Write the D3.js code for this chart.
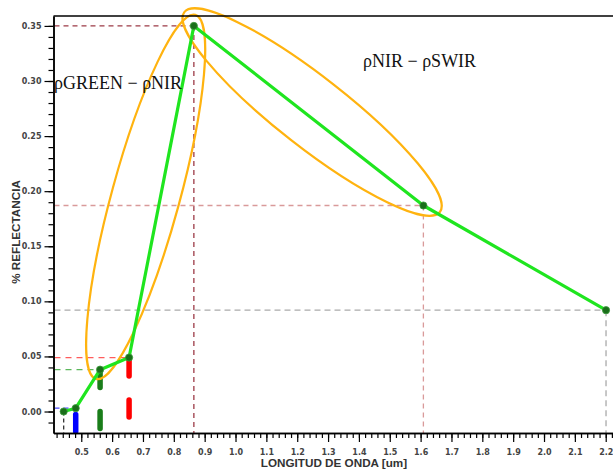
<!DOCTYPE html>
<html><head><meta charset="utf-8">
<script src="https://cdn.jsdelivr.net/npm/d3@7"></script>
<style>body{margin:0;background:#fff}svg{display:block}</style>
</head><body><svg id="c" width="613" height="473"></svg>
<script>
// ---- data ----
const bands = ["Coastal","Blue","Green","Red","NIR","SWIR1","SWIR2"];
const wavelengths = [0.443,0.482,0.561,0.655,0.865,1.609,2.201];
const reflectance = [0.000,0.003,0.038,0.049,0.350,0.187,0.092];
const guideHoriz = [false,true,true,true,true,true,true];
const guideVert  = [true,false,false,false,true,true,true];
const barBands = ["Blue","Green","Red"];
const barTops  = [-0.0005,0.0395,0.050];
const xMajorTicks = d3.range(5,23).map(i=>+(i/10).toFixed(1));
const xMinorTicks = d3.range(21,112).map(i=>+(i*0.02).toFixed(2));
const yMajorTicks = [0,0.05,0.10,0.15,0.20,0.25,0.30,0.35];
const yMinorTicks = d3.range(-1,36).map(i=>+(i/100).toFixed(2));
const xTitle = "LONGITUD DE ONDA [um]";
const yTitle = "% REFLECTANCIA";
const annotTexts = ["ρGREEN − ρNIR","ρNIR − ρSWIR"];
const ellipseFrom = ["Green","NIR"];
const ellipseTo   = ["NIR","SWIR1"];

// ---- styles ----
const guideColors = ["#333","#4a4aff","#5cb85c","#ff5c5c","#9c3a46","#d99a9a","#aaaaaa"];
const guideDash   = ["4,3","5,4","6,5","6,5","5,4","5,4","6,4"];
const barColors = ["#0000ff","#1a7d1a","#ff0000"];
const ellipseStyle = [
  {padStart:10, padEnd:11, offset:-1.5, halfWidth:34},
  {padStart:16, padEnd:17, offset:-5, halfWidth:35}
];

const svg = d3.select("#c");
const W = 613, H = 473;
const x = d3.scaleLinear().domain([0.41, 2.25]).range([53.5, 53.5 + 1.84*308.5]);
const y = d3.scaleLinear().domain([-0.0195, 0.359]).range([433, 16]);
const x0 = x.range()[0], yBase = y.range()[0], yTop = y.range()[1];

const pts = bands.map((b,i)=>({band:b, w:wavelengths[i], r:reflectance[i], i}));
const byBand = Object.fromEntries(pts.map(p=>[p.band,p]));

// guides
const g = svg.append("g");
pts.forEach(p=>{
  if (guideHoriz[p.i]) g.append("line")
    .attr("x1", x0+1).attr("x2", x(p.w)).attr("y1", y(p.r)).attr("y2", y(p.r))
    .attr("stroke", guideColors[p.i]).attr("stroke-width", 1.3).attr("stroke-dasharray", guideDash[p.i]);
  if (guideVert[p.i]) g.append("line")
    .attr("x1", x(p.w)).attr("x2", x(p.w)).attr("y1", y(p.r)).attr("y2", yBase)
    .attr("stroke", guideColors[p.i]).attr("stroke-width", 1.3).attr("stroke-dasharray", guideDash[p.i]);
});

// thick band bars
barBands.forEach((b,k)=>{
  const p = byBand[b];
  svg.append("line")
    .attr("x1", x(p.w)).attr("x2", x(p.w))
    .attr("y1", y(barTops[k]) + 2.5).attr("y2", yBase - 1)
    .attr("stroke", barColors[k]).attr("stroke-width", 5.5)
    .attr("stroke-linecap", "round").attr("stroke-dasharray", "17,24");
});

// ellipses
ellipseFrom.forEach((fb,k)=>{
  const a = byBand[fb], b = byBand[ellipseTo[k]], s = ellipseStyle[k];
  const ax = x(a.w), ay = y(a.r), bx = x(b.w), by = y(b.r);
  const len = Math.hypot(bx-ax, by-ay);
  const ux = (bx-ax)/len, uy = (by-ay)/len, nx = -uy, ny = ux;
  const semi = (len + s.padStart + s.padEnd)/2;
  const along = (s.padEnd - s.padStart)/2;
  const cx = (ax+bx)/2 + along*ux + s.offset*nx;
  const cy = (ay+by)/2 + along*uy + s.offset*ny;
  const ang = Math.atan2(uy, ux)*180/Math.PI;
  svg.append("ellipse").attr("cx",cx).attr("cy",cy).attr("rx",semi).attr("ry",s.halfWidth)
    .attr("transform",`rotate(${ang},${cx},${cy})`)
    .attr("fill","none").attr("stroke","#ffb30f").attr("stroke-width",2.2);
});

// line
svg.append("path").datum(pts)
  .attr("d", d3.line().x(d=>x(d.w)).y(d=>y(d.r)))
  .attr("fill","none").attr("stroke","#1fe51f").attr("stroke-width",3.2).attr("stroke-linejoin","round");

// points
svg.append("g").selectAll("circle").data(pts).join("circle")
  .attr("cx", d=>x(d.w)).attr("cy", d=>y(d.r)).attr("r", 3.6)
  .attr("fill","#1a6e1a").attr("stroke","#3c9a3c").attr("stroke-width",0.8);

// axes
const tickFont = "'DejaVu Sans', sans-serif";
const yMinorAxis = svg.append("g").attr("transform",`translate(${x0},0)`)
  .call(d3.axisLeft(y).tickValues(yMinorTicks).tickSize(5).tickSizeOuter(0).tickFormat(""));
const yMajorAxis = svg.append("g").attr("transform",`translate(${x0},0)`)
  .call(d3.axisLeft(y).tickValues(yMajorTicks).tickSize(9).tickSizeOuter(0).tickPadding(3).tickFormat(d3.format(".2f")));
const xMinorAxis = svg.append("g").attr("transform",`translate(0,${yBase})`)
  .call(d3.axisBottom(x).tickValues(xMinorTicks).tickSize(5).tickSizeOuter(0).tickFormat(""));
const xMajorAxis = svg.append("g").attr("transform",`translate(0,${yBase})`)
  .call(d3.axisBottom(x).tickValues(xMajorTicks).tickSize(9).tickSizeOuter(0).tickPadding(7).tickFormat(d3.format(".1f")));
[yMinorAxis,yMajorAxis,xMinorAxis,xMajorAxis].forEach(a=>{
  a.selectAll("path").attr("stroke","#000").attr("stroke-width",1.5);
  a.selectAll("line").attr("stroke","#000").attr("stroke-width",1.2);
  a.selectAll("text").attr("font-family",tickFont).attr("font-size",8).attr("font-weight","bold").attr("fill","#444");
});
// top frame line
svg.append("line").attr("x1",x0).attr("x2",W).attr("y1",yTop).attr("y2",yTop)
  .attr("stroke","#000").attr("stroke-width",1.5);

// titles
svg.append("text").attr("x",334).attr("y",467).attr("text-anchor","middle")
  .attr("font-family","'Liberation Sans', Arial, sans-serif").attr("font-weight","bold")
  .attr("font-size",11.7).attr("fill","#333").text(xTitle);
svg.append("text").attr("transform","translate(20,232) rotate(-90)").attr("text-anchor","middle")
  .attr("font-family","'Liberation Sans', Arial, sans-serif").attr("font-weight","bold")
  .attr("font-size",11.7).attr("fill","#333").text(yTitle);

// annotations
svg.append("text").attr("x",54).attr("y",88.5)
  .attr("font-family","'Liberation Serif', serif").attr("font-size",18).attr("fill","#111").text(annotTexts[0]);
svg.append("text").attr("x",363).attr("y",66.5)
  .attr("font-family","'Liberation Serif', serif").attr("font-size",18).attr("fill","#111").text(annotTexts[1]);
</script>
</body></html>
